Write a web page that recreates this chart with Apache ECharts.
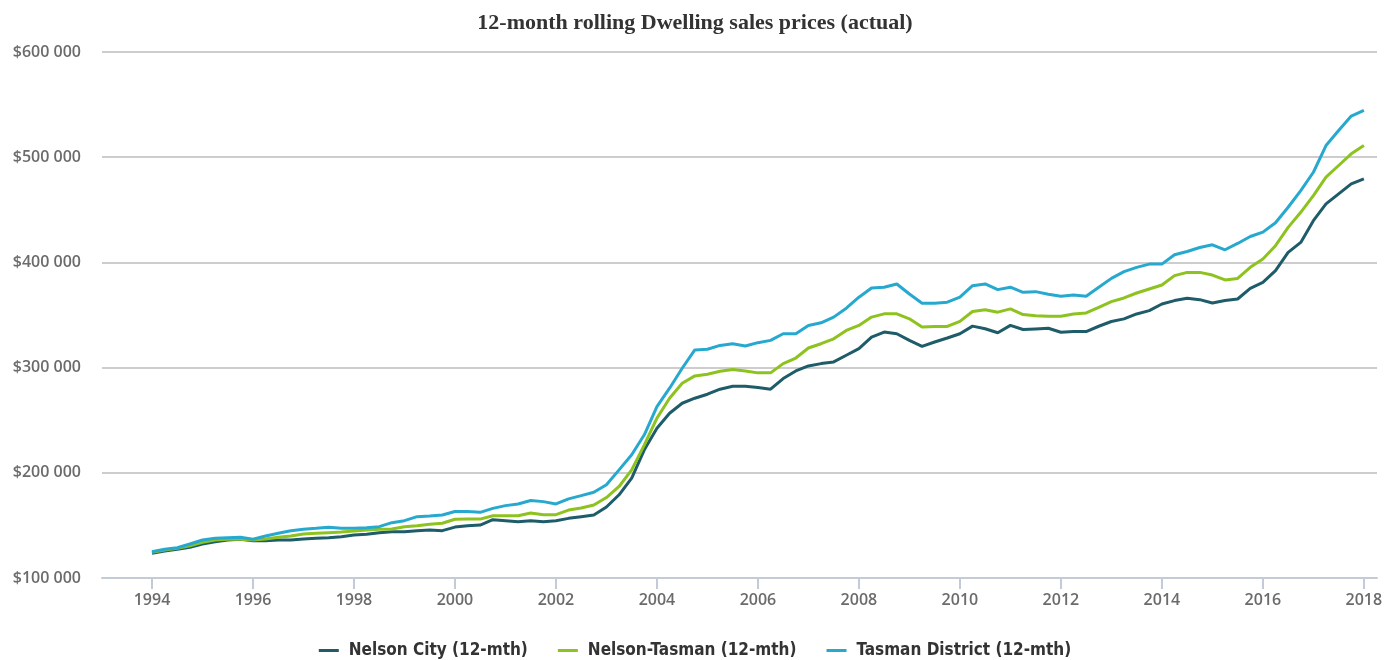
<!DOCTYPE html>
<html>
<head>
<meta charset="utf-8">
<title>12-month rolling Dwelling sales prices (actual)</title>
<script src="https://cdn.jsdelivr.net/npm/echarts@6/dist/echarts.min.js"></script>
<style>
  html, body { margin: 0; padding: 0; background: #ffffff; }
  #chart { width: 1390px; height: 660px; }
</style>
</head>
<body>
<div id="chart"></div>
<script>
// Quarterly series, starting with the first quarter of 1994 (values in $ thousands)
const START_YEAR = 1994;
const yearTicks = [1994, 1996, 1998, 2000, 2002, 2004, 2006, 2008, 2010, 2012, 2014, 2016, 2018];
const seriesNames = ['Nelson City (12-mth)', 'Nelson-Tasman (12-mth)', 'Tasman District (12-mth)'];

const nelsonCity = [
  123.5, 125.7, 127.3, 129.2,
  132.3, 134.5, 136.1, 136.8,
  135.5, 135.5, 136.1, 136.1,
  137.1, 137.7, 138.3, 139.3,
  140.9, 141.5, 143.1, 144.0,
  144.0, 145.0, 145.6, 145.0,
  148.4, 149.7, 150.3, 155.4,
  154.5, 153.5, 154.5, 153.5,
  154.5, 156.7, 158.3, 159.9,
  167.5, 179.1, 194.9, 221.8,
  242.4, 256.6, 266.1, 270.9,
  274.7, 279.5, 282.3, 282.3,
  281.1, 279.5, 289.6, 296.8,
  301.6, 303.8, 305.4, 311.7,
  318.0, 329.0, 333.8, 332.2,
  325.9, 320.2, 324.3, 328.1,
  332.2, 339.4, 336.9, 333.1,
  340.1, 336.2, 336.8, 337.4,
  333.6, 334.3, 334.3, 339.3,
  343.8, 346.3, 351.0, 354.2,
  360.5, 363.7, 365.9, 364.6,
  361.4, 363.7, 365.2, 375.4,
  381.0, 392.1, 409.5, 419.0,
  439.7, 455.6, 465.1, 474.6,
  479.4
];

const nelsonTasman = [
  124.4, 126.6, 128.2, 130.7,
  133.9, 136.1, 136.8, 136.8,
  136.1, 137.1, 138.7, 139.9,
  141.8, 142.5, 143.1, 143.7,
  144.7, 145.6, 146.3, 146.6,
  148.8, 149.7, 151.0, 152.0,
  155.8, 156.0, 156.0, 159.2,
  159.2, 159.2, 161.8, 160.2,
  160.2, 164.6, 166.6, 169.4,
  176.5, 187.0, 202.8, 226.6,
  252.0, 270.9, 285.1, 292.1,
  293.7, 296.5, 298.1, 296.8,
  295.0, 295.0, 303.8, 309.1,
  318.6, 322.7, 327.4, 335.3,
  340.1, 348.0, 351.1, 351.1,
  346.4, 338.5, 339.1, 339.1,
  343.9, 353.3, 354.9, 352.7,
  355.8, 350.4, 349.4, 348.8,
  348.8, 351.0, 352.0, 357.3,
  362.7, 366.2, 370.9, 374.7,
  378.5, 387.4, 390.5, 390.5,
  388.0, 383.3, 384.8, 395.3,
  403.2, 415.9, 433.3, 447.6,
  463.5, 481.0, 492.1, 503.2,
  511.1
];

const tasmanDistrict = [
  125.0, 127.3, 128.8, 132.3,
  136.1, 137.7, 138.3, 138.7,
  136.8, 139.9, 142.5, 145.0,
  146.3, 147.2, 148.2, 147.2,
  147.2, 147.8, 148.8, 152.6,
  154.5, 158.3, 158.9, 159.9,
  163.2, 163.1, 162.4, 166.2,
  168.8, 170.4, 173.6, 172.6,
  170.4, 175.2, 178.3, 181.5,
  188.6, 202.8, 217.1, 236.1,
  263.0, 280.4, 299.4, 316.8,
  317.4, 321.1, 322.7, 320.5,
  323.7, 325.9, 332.2, 332.2,
  340.1, 342.6, 348.0, 356.5,
  366.9, 375.7, 376.4, 379.5,
  370.0, 361.2, 361.2, 362.2,
  366.9, 377.9, 379.5, 374.1,
  376.4, 371.6, 372.2, 369.7,
  367.8, 369.0, 367.8, 376.3,
  384.8, 391.2, 395.3, 398.4,
  398.4, 407.3, 410.4, 414.2,
  416.7, 412.0, 418.0, 424.6,
  428.8, 437.7, 452.4, 468.3,
  485.7, 511.1, 525.4, 539.1,
  544.5
];

// Pair each quarterly value with its decimal year
const toPairs = vals => vals.map((v, i) => [START_YEAR + i / 4, v * 1000]);

const colors = ['#1d5c68', '#8dc21f', '#27a9cf'];
const seriesData = [nelsonCity, nelsonTasman, tasmanDistrict];

const labelFont = "'Open Sans', 'DejaVu Sans', sans-serif";

const chart = echarts.init(document.getElementById('chart'), null, { renderer: 'canvas' });

chart.setOption({
  animation: false,
  backgroundColor: '#ffffff',
  color: colors,
  title: {
    text: '12-month rolling Dwelling sales prices (actual)',
    left: 'center',
    top: 7,
    textStyle: {
      fontFamily: "'Liberation Serif', 'DejaVu Serif', serif",
      fontWeight: 'bold',
      fontSize: 22,
      color: '#333333'
    }
  },
  legend: {
    top: 637,
    left: 'center',
    icon: 'rect',
    itemWidth: 20,
    itemHeight: 3,
    itemGap: 30,
    textStyle: {
      fontFamily: "'DejaVu Sans Condensed', 'Liberation Sans', sans-serif",
      fontWeight: 'bold',
      fontSize: 17,
      color: '#333333',
      padding: [0, 0, 0, 5]
    },
    data: seriesNames
  },
  grid: { left: 102, right: 13, top: 52, bottom: 82 },
  xAxis: {
    type: 'value',
    min: 1993.01,
    max: 2018.26,
    splitLine: { show: false },
    axisLine: { lineStyle: { color: '#c3cbd8', width: 2 } },
    axisTick: {
      show: true,
      customValues: yearTicks,
      length: 11,
      lineStyle: { color: '#c3cbd8', width: 2 }
    },
    axisLabel: {
      customValues: yearTicks,
      formatter: v => String(v),
      margin: 14,
      fontFamily: labelFont,
      fontWeight: 600,
      fontSize: 16,
      color: '#6b6b6b'
    }
  },
  yAxis: {
    type: 'value',
    min: 100000,
    max: 600000,
    interval: 100000,
    axisLine: { show: false },
    axisTick: { show: false },
    splitLine: { lineStyle: { color: '#cdcdcd', width: 2 } },
    axisLabel: {
      margin: 21,
      formatter: v => '$' + (v / 1000) + ' 000',
      fontFamily: labelFont,
      fontWeight: 600,
      fontSize: 16,
      color: '#6b6b6b'
    }
  },
  series: seriesNames.map((name, k) => ({
    name: name,
    type: 'line',
    data: toPairs(seriesData[k]),
    symbol: 'none',
    smooth: false,
    lineStyle: { width: 3, color: colors[k] },
    itemStyle: { color: colors[k] }
  }))
});
</script>
</body>
</html>
